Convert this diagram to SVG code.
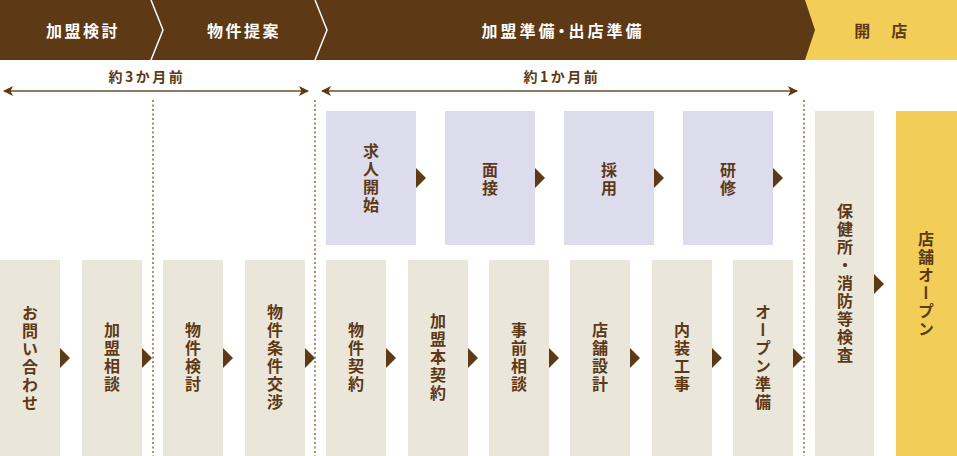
<svg xmlns="http://www.w3.org/2000/svg" width="957" height="456" viewBox="0 0 957 456">
<style>
.hd{font-family:"Noto Sans CJK JP","Noto Sans",sans-serif;font-weight:700;font-size:16px;letter-spacing:2.5px;text-anchor:middle;}
.palt{font-feature-settings:"palt";letter-spacing:3px;}
.wt{fill:#ffffff;}
.br{fill:#5d3915;}
.lbl{font-family:"Noto Sans CJK JP","Noto Sans",sans-serif;font-weight:700;font-size:14px;letter-spacing:2.5px;text-anchor:middle;fill:#5d3915;}
.vt{font-family:"Noto Sans CJK JP",sans-serif;font-weight:700;font-size:16px;letter-spacing:2px;writing-mode:vertical-rl;text-anchor:middle;fill:#5d3915;}
.pu{fill:#dcdcec;}
.be{fill:#ebe6da;}
.ye{fill:#f2cd57;}
.tri{fill:#5d3915;}
.dot{stroke:#8a6a4a;stroke-width:1.5;stroke-dasharray:2 2.5;fill:none;}
.span{stroke:#8f7a66;stroke-width:2;fill:none;}
</style>
<defs>
<marker id="ah" viewBox="0 0 10 10" refX="9" refY="5" markerWidth="10" markerHeight="10" markerUnits="userSpaceOnUse" orient="auto-start-reverse">
<path d="M0,0 L10,5 L0,10 L2.5,5 Z" fill="#5d3915"/>
</marker>
</defs>
<rect x="0" y="0" width="957" height="456" fill="#ffffff"/>
<g id="header">
<rect class="ye" x="0" y="0" width="957" height="60"/>
<polygon fill="#5d3915" points="0,0 805,0 815,30 805,60 0,60"/>
<polyline points="151,0 163,30 151,60" stroke="#ffffff" stroke-width="1.5" fill="none"/>
<polyline points="315,0 327,30 315,60" stroke="#ffffff" stroke-width="1.5" fill="none"/>
<text class="hd wt" x="83" y="37">加盟検討</text>
<text class="hd wt" x="244" y="37">物件提案</text>
<text class="hd wt palt" x="563" y="37">加盟準備・出店準備</text>
<text class="hd br" x="882" y="37">開　店</text>
</g>
<g id="spans">
<text class="lbl" x="147" y="82">約3か月前</text>
<text class="lbl" x="562" y="82">約1か月前</text>
<line class="span" x1="4" y1="91" x2="308" y2="91" marker-start="url(#ah)" marker-end="url(#ah)"/>
<line class="span" x1="322" y1="91" x2="797" y2="91" marker-start="url(#ah)" marker-end="url(#ah)"/>
</g>
<g id="dividers">
<line class="dot" x1="153" y1="100" x2="153" y2="456"/>
<line class="dot" x1="315" y1="100" x2="315" y2="456"/>
<line class="dot" x1="804" y1="100" x2="804" y2="456"/>
</g>
<g id="connectors">
<polygon class="tri" points="416,168 426,178 416,188"/>
<polygon class="tri" points="535,168 545,178 535,188"/>
<polygon class="tri" points="654,168 664,178 654,188"/>
<polygon class="tri" points="773,168 783,178 773,188"/>
<polygon class="tri" points="60,348 70,358 60,368"/>
<polygon class="tri" points="142,348 152,358 142,368"/>
<polygon class="tri" points="223,348 233,358 223,368"/>
<polygon class="tri" points="305,348 315,358 305,368"/>
<polygon class="tri" points="386,348 396,358 386,368"/>
<polygon class="tri" points="468,348 478,358 468,368"/>
<polygon class="tri" points="549,348 559,358 549,368"/>
<polygon class="tri" points="630,348 640,358 630,368"/>
<polygon class="tri" points="712,348 722,358 712,368"/>
<polygon class="tri" points="793,348 803,358 793,368"/>
<polygon class="tri" points="874,274 884,284 874,294"/>
</g>
<g id="n-kyujin"><rect class="pu" x="326" y="111" width="90" height="134"/><text class="vt" x="371" y="179">求人開始</text></g>
<g id="n-mensetsu"><rect class="pu" x="445" y="111" width="90" height="134"/><text class="vt" x="490" y="180">面接</text></g>
<g id="n-saiyo"><rect class="pu" x="564" y="111" width="90" height="134"/><text class="vt" x="609" y="180">採用</text></g>
<g id="n-kenshu"><rect class="pu" x="683" y="111" width="90" height="134"/><text class="vt" x="728" y="180">研修</text></g>
<g id="n-toiawase"><rect class="be" x="0" y="260" width="60" height="196"/><text class="vt" x="30" y="359">お問い合わせ</text></g>
<g id="n-soudan"><rect class="be" x="82" y="260" width="60" height="196"/><text class="vt" x="112" y="358">加盟相談</text></g>
<g id="n-bukken-kento"><rect class="be" x="163" y="260" width="60" height="196"/><text class="vt" x="193" y="358">物件検討</text></g>
<g id="n-joken"><rect class="be" x="245" y="260" width="60" height="196"/><text class="vt" x="275" y="358">物件条件交渉</text></g>
<g id="n-keiyaku"><rect class="be" x="326" y="260" width="60" height="196"/><text class="vt" x="356" y="358">物件契約</text></g>
<g id="n-honkeiyaku"><rect class="be" x="408" y="260" width="60" height="196"/><text class="vt" x="438" y="358">加盟本契約</text></g>
<g id="n-jizen"><rect class="be" x="489" y="260" width="60" height="196"/><text class="vt" x="519" y="358">事前相談</text></g>
<g id="n-sekkei"><rect class="be" x="570" y="260" width="60" height="196"/><text class="vt" x="600" y="358">店舗設計</text></g>
<g id="n-naiso"><rect class="be" x="652" y="260" width="60" height="196"/><text class="vt" x="682" y="358">内装工事</text></g>
<g id="n-open-junbi"><rect class="be" x="733" y="260" width="60" height="196"/><text class="vt" x="763" y="358">オープン準備</text></g>
<g id="n-kensa"><rect class="be" x="815" y="111" width="59" height="345"/><text class="vt" x="845" y="284">保健所・消防等検査</text></g>
<g id="n-open"><rect class="ye" x="896" y="111" width="61" height="345"/><text class="vt" x="926" y="285">店舗オープン</text></g>
</svg>
